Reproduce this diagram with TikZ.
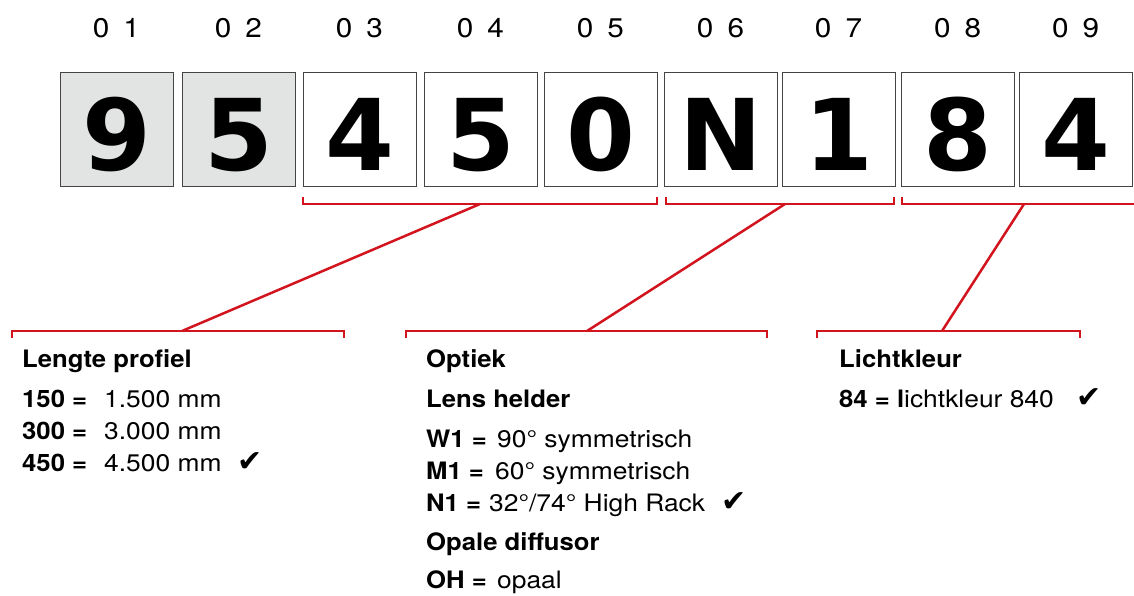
\documentclass[tikz,border=0pt]{standalone}
\usepackage{fontspec}
\setmainfont{TeX Gyre Heros}[FakeStretch=1.1, BoldFeatures={FakeStretch=1.07}]
\newfontfamily\dejavu{DejaVu Sans}
\definecolor{brred}{HTML}{D2141E}
\definecolor{boxgray}{HTML}{E2E3E3}
\definecolor{boxline}{HTML}{444444}
\tikzset{
  digitbox/.style={draw=boxline, line width=0.9pt, minimum width=113pt, minimum height=114pt, inner sep=0pt},
  bigdigit/.style={anchor=base, inner sep=0pt, font=\dejavu\bfseries\fontsize{99}{100}\selectfont},
  poslabel/.style={anchor=base, inner sep=0pt, font=\fontsize{27}{30}\selectfont},
  bracket/.style={draw=brred, line width=2.5pt},
  conn/.style={draw=brred, line width=2.5pt},
  txt/.style={anchor=base west, inner sep=0pt, font=\fontsize{24}{28}\selectfont},
  head/.style={txt, font=\bfseries\fontsize{24}{28}\selectfont},
  tick/.style={anchor=base west, inner sep=0pt, font=\dejavu\fontsize{30}{32}\selectfont},
}
\begin{document}
\begin{tikzpicture}[x=1pt,y=-1pt]
\useasboundingbox (0,0) rectangle (1134,595);
% boxes
\foreach \i/\cx/\d/\f in {1/116.5/9/boxgray, 2/238.5/5/boxgray, 3/359.5/4/white, 4/480.5/5/white, 5/600.5/0/white, 6/720.5/N/white, 7/838.5/1/white, 8/957.5/8/white, 9/1075.5/4/white}{
  \node[digitbox, fill=\f] (b\i) at (\cx,129) {};
  \node[bigdigit] (d\i) at (\cx,170) {\d};
  \node[poslabel] (p\i) at (\cx,37) {0\hspace{14pt}\i};
}
% upper brackets
\draw[bracket] (303,197) -- (303,204) -- (657,204) -- (657,197);
\draw[bracket] (666,197) -- (666,204) -- (894,204) -- (894,197);
\draw[bracket] (902,197) -- (902,204) -- (1134,204);
% lower brackets
\draw[bracket] (12,338) -- (12,331) -- (344,331) -- (344,338);
\draw[bracket] (406,338) -- (406,331) -- (767,331) -- (767,338);
\draw[bracket] (817,338) -- (817,331) -- (1080,331) -- (1080,338);
% connector end points
\coordinate (u1) at (480,204);
\coordinate (l1) at (182,331);
\coordinate (u2) at (785,204);
\coordinate (l2) at (587,331);
\coordinate (u3) at (1024,204);
\coordinate (l3) at (942,331);
\draw[conn] (u1) -- (l1);
\draw[conn] (u2) -- (l2);
\draw[conn] (u3) -- (l3);
% Lengte profiel
\node[head] (h1) at (22,367) {Lengte profiel};
\node[head] (k150) at (22,407) {150 =};
\node[txt] (v150) at (104,407) {1.500 mm};
\node[head] (k300) at (22,439) {300 =};
\node[txt] (v300) at (104,439) {3.000 mm};
\node[head] (k450) at (22,471) {450 =};
\node[txt] (v450) at (104,471) {4.500 mm};
\node[tick] (c1) at (237,471) {✔};
% Optiek
\node[head] (h2) at (426,367) {Optiek};
\node[head] (h2b) at (426,407) {Lens helder};
\node[head] (kw1) at (426,447) {W1 =};
\node[txt] (vw1) at (497,447) {90° symmetrisch};
\node[head] (km1) at (426,479) {M1 =};
\node[txt] (vm1) at (495,479) {60° symmetrisch};
\node[head] (kn1) at (426,511) {N1 =};
\node[txt] (vn1) at (489,511) {32°/74° High Rack};
\node[tick] (c2) at (721,511) {✔};
\node[head] (h2c) at (426,550) {Opale diffusor};
\node[head] (koh) at (426,588) {OH =};
\node[txt] (voh) at (497,588) {opaal};
% Lichtkleur
\node[head] (h3) at (839,367) {Lichtkleur};
\node[txt] (v84) at (839,407) {\textbf{84 = l}ichtkleur 840};
\node[tick] (c3) at (1076,407) {✔};
\end{tikzpicture}
\end{document}
